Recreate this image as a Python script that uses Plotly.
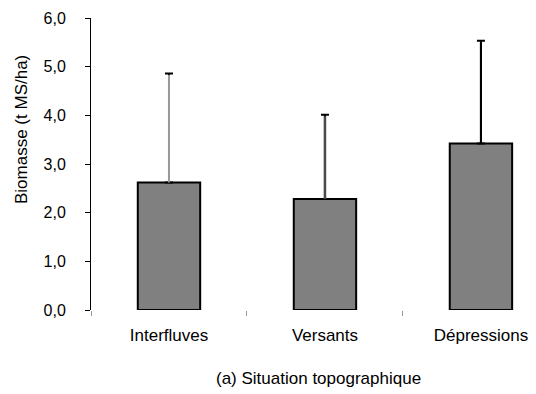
import plotly.graph_objects as go

categories = ["Interfluves", "Versants", "Dépressions"]
biomasse = [2.62, 2.28, 3.42]
ecart_type = [2.24, 1.73, 2.11]
stem_colors = ["#999999", "#4a4a4a", "#000000"]
y_ticks = [0, 1, 2, 3, 4, 5, 6]

# plot-area geometry in pixels
L, R, T, B = 91, 0, 18, 84
W, H = 536, 394
pw = W - L - R
ph = H - T - B


def px_to_paper(px, py):
    return (px - L) / pw, (H - B - py) / ph


fig = go.Figure()
for i, cat in enumerate(categories):
    fig.add_trace(go.Bar(
        x=[cat], y=[biomasse[i]],
        marker=dict(color="#808080", line=dict(color="#000000", width=2)),
        width=0.40,
        error_y=dict(type="data", symmetric=False, array=[ecart_type[i]], arrayminus=[0],
                     color="#000000", thickness=2, width=4),
        showlegend=False,
    ))
    # stem colour overlay (cap stays black as in the reference)
    fig.add_trace(go.Scatter(
        x=[cat, cat], y=[biomasse[i], biomasse[i] + ecart_type[i] - 0.03],
        mode="lines", line=dict(color=stem_colors[i], width=2 if i != 1 else 2.5),
        showlegend=False, hoverinfo="skip",
    ))

ax_x, ax_y = px_to_paper(21, 130)
tx_x, tx_y = px_to_paper(318, 378)

fig.update_layout(
    width=W, height=H,
    margin=dict(l=L, r=R, t=T, b=B),
    plot_bgcolor="white", paper_bgcolor="white",
    separators=", ",
    barmode="overlay",
    font=dict(family="Liberation Sans, Arial, sans-serif", color="#000000"),
    xaxis=dict(
        type="category", categoryorder="array", categoryarray=categories,
        range=[-0.5, 2.353],
        showline=False, showgrid=False, zeroline=False,
        ticks="outside", tickson="boundaries", ticklen=5, tickwidth=1, tickcolor="#999999",
        tickfont=dict(size=17), ticklabelstandoff=13,
    ),
    yaxis=dict(
        range=[0, 6], tickvals=y_ticks, tickformat=".1f",
        showline=True, linecolor="#000000", linewidth=1,
        showgrid=False, zeroline=False,
        ticks="outside", ticklen=5, tickcolor="#000000",
        tickfont=dict(size=16), ticklabelstandoff=16,
    ),
    annotations=[
        dict(text="Biomasse (t MS/ha)", x=ax_x, y=ax_y, xref="paper", yref="paper",
             xanchor="center", yanchor="middle",
             showarrow=False, textangle=-90, font=dict(size=17)),
        dict(text="(a) Situation topographique", x=tx_x, y=tx_y, xref="paper", yref="paper",
             xanchor="center", yanchor="middle",
             showarrow=False, font=dict(size=17)),
    ],
)

fig.write_html("out.html")
